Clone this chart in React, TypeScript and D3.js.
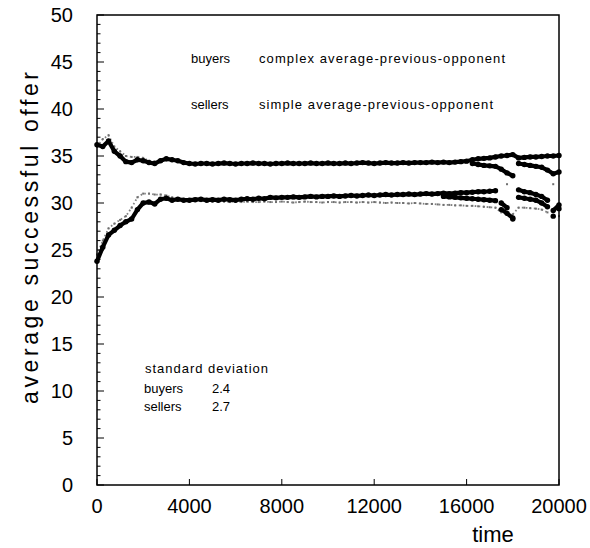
import React from "react";
import * as d3 from "d3";

// time grids
const timeMain = d3.range(0, 20001, 250);
const timeUpperGray = d3.range(0, 4001, 250);
const timeUpperBranch = d3.range(16250, 20001, 250);
const timeLowerBranch = d3.range(15000, 20001, 250);

// upper band, black dots
const upperBlack = [
  36.2, 36.0, 36.6, 35.5, 35.0, 34.4, 34.3, 34.6, 34.5, 34.3,
  34.2, 34.5, 34.7, 34.6, 34.5, 34.3, 34.2, 34.15, 34.2, 34.2,
  34.15, 34.2, 34.25, 34.2, 34.15, 34.2, 34.2, 34.25, 34.2, 34.2,
  34.15, 34.2, 34.2, 34.25, 34.2, 34.2, 34.2, 34.25, 34.2, 34.2,
  34.25, 34.2, 34.2, 34.25, 34.2, 34.25, 34.3, 34.25, 34.2, 34.25,
  34.3, 34.25, 34.25, 34.3, 34.25, 34.3, 34.3, 34.3, 34.35, 34.3,
  34.35, 34.3, 34.35, 34.4, 34.45, 34.6, 34.7, 34.75, 34.8, 34.9,
  35.0, 35.05, 35.15, 34.8, 34.85, 34.9, 34.9, 34.95, 35.0, 35.0,
  35.05,
];
// upper band, gray dots (early part, visible above the black)
const upperGray = [
  36.0, 36.8, 37.2, 36.0, 35.5, 35.0, 34.9, 34.9, 34.8, 34.5,
  34.4, 34.6, 34.8, 34.7, 34.5, 34.35, 34.3,
];
// upper band, late second branch (black)
const upperBranch = [
  34.2, 34.1, 34.0, 33.95, 33.9, 33.6, 33.2, 32.9, 34.2, 34.1,
  34.0, 33.9, 33.8, 33.5, 33.1, 33.3,
];
// lower band, black dots
const lowerBlack = [
  23.8, 25.3, 26.6, 27.1, 27.6, 28.0, 28.3, 29.3, 30.0, 30.1,
  29.9, 30.4, 30.5, 30.3, 30.4, 30.3, 30.3, 30.35, 30.4, 30.3,
  30.35, 30.3, 30.4, 30.35, 30.3, 30.4, 30.45, 30.4, 30.5, 30.45,
  30.6, 30.55, 30.6, 30.6, 30.65, 30.6, 30.65, 30.7, 30.65, 30.7,
  30.7, 30.75, 30.7, 30.75, 30.8, 30.75, 30.8, 30.85, 30.8, 30.85,
  30.9, 30.85, 30.9, 30.9, 30.95, 30.9, 30.95, 31.0, 30.95, 31.0,
  31.05, 31.0, 31.05, 31.1, 31.1, 31.15, 31.2, 31.2, 31.25, 31.3,
  30.0, 29.5, 28.3, 31.4, 31.2, 31.1, 30.9, 30.7, 30.3, 29.2,
  29.8,
];
// lower band, gray dots
const lowerGray = [
  24.5, 26.0, 27.3, 27.8, 28.2, 28.6, 29.5, 30.6, 31.0, 31.0,
  30.9, 30.9, 30.8, 30.6, 30.5, 30.4, 30.3, 30.25, 30.2, 30.2,
  30.15, 30.2, 30.15, 30.1, 30.2, 30.1, 30.15, 30.1, 30.1, 30.15,
  30.1, 30.1, 30.15, 30.1, 30.05, 30.1, 30.15, 30.1, 30.1, 30.05,
  30.1, 30.1, 30.05, 30.1, 30.1, 30.05, 30.1, 30.05, 30.1, 30.05,
  30.0, 30.05, 30.0, 30.0, 29.95, 30.0, 29.95, 29.9, 29.9, 29.85,
  29.8, 29.8, 29.75, 29.75, 29.7, 29.7, 29.65, 29.6, 29.55, 29.5,
  29.0, 32.0, 28.8, 29.5, 29.5, 29.45, 29.4, 29.3, 29.0, 32.0,
  28.6,
];
// lower band, late second branch (black)
const lowerBranch = [
  30.7, 30.65, 30.6, 30.55, 30.5, 30.45, 30.4, 30.35, 30.3, 30.25,
  29.3, 28.9, 28.4, 30.6, 30.5, 30.4, 30.3, 30.0, 29.6, 28.6,
  29.4,
];

const xTicks = [0, 4000, 8000, 12000, 16000, 20000];
const yTicks = [0, 5, 10, 15, 20, 25, 30, 35, 40, 45, 50];
const yMinorTicks = d3.range(0, 51, 1);

const legendLines = [
  { who: "buyers", strategy: "complex average-previous-opponent" },
  { who: "sellers", strategy: "simple average-previous-opponent" },
];
const sdTitle = "standard deviation";
const sdLines = [
  { who: "buyers", value: "2.4" },
  { who: "sellers", value: "2.7" },
];

const FONT = "'Liberation Sans', Arial, sans-serif";

type Pt = [number, number];

// split a series into runs where consecutive values stay close (for drawing bands);
// the early transient is allowed larger steps than the late scattered part
function runs(t: number[], v: number[], maxJumpEarly: number, maxJumpLate: number): Pt[][] {
  const out: Pt[][] = [];
  let cur: Pt[] = [];
  v.forEach((val, i) => {
    const lim = t[i] < 10000 ? maxJumpEarly : maxJumpLate;
    if (cur.length && Math.abs(val - cur[cur.length - 1][1]) > lim) {
      out.push(cur);
      cur = [];
    }
    cur.push([t[i], val]);
  });
  if (cur.length) out.push(cur);
  return out;
}

export default function App() {
  const left = 97, right = 559, top = 15, bottom = 485;
  const x = d3.scaleLinear().domain([0, 20000]).range([left, right]);
  const y = d3.scaleLinear().domain([0, 50]).range([bottom, top]);
  const line = d3.line<Pt>().x((d) => x(d[0])).y((d) => y(d[1]));

  const blackSeries = [
    { t: timeMain, v: upperBlack },
    { t: timeUpperBranch, v: upperBranch },
    { t: timeMain, v: lowerBlack },
    { t: timeLowerBranch, v: lowerBranch },
  ];
  const graySeries = [
    { t: timeUpperGray, v: upperGray },
    { t: timeMain, v: lowerGray },
  ];

  return (
    <svg width={590} height={548} style={{ position: "absolute", left: 0, top: 0, background: "#fff" }}>
      <rect x={0} y={0} width={590} height={548} fill="#fff" />
      {/* gray series: dotted */}
      {graySeries.map((s, si) =>
        runs(s.t, s.v, 2, 1.2).map((seg, k) =>
          seg.length > 1 ? (
            <path key={`gp${si}-${k}`} d={line(seg) || ""} fill="none" stroke="#808080" strokeWidth={1.8} strokeDasharray="1.6 2.4" />
          ) : null
        )
      )}
      {graySeries.map((s, si) =>
        s.v.map((v, i) => (
          <rect key={`g${si}-${i}`} x={x(s.t[i]) - 1} y={y(v) - 1} width={2} height={2} fill="#707070" />
        ))
      )}
      {/* black series: thick band + dots */}
      {blackSeries.map((s, si) =>
        runs(s.t, s.v, 2, 0.7).map((seg, k) =>
          seg.length > 1 ? (
            <path key={`bp${si}-${k}`} d={line(seg) || ""} fill="none" stroke="#000" strokeWidth={4.2} strokeLinejoin="round" strokeLinecap="round" />
          ) : null
        )
      )}
      {blackSeries.map((s, si) =>
        s.v.map((v, i) => (
          <circle key={`b${si}-${i}`} cx={x(s.t[i])} cy={y(v)} r={2.7} fill="#000" />
        ))
      )}
      {/* frame */}
      <rect x={left} y={top} width={right - left} height={bottom - top} fill="none" stroke="#000" strokeWidth={1.5} />
      {/* y ticks */}
      {yMinorTicks.map((v) => (
        <line key={`ym${v}`} x1={left} x2={left + (v % 5 === 0 ? 7 : 3.5)} y1={y(v)} y2={y(v)} stroke="#000" strokeWidth={1} />
      ))}
      {yTicks.map((v) => (
        <text key={`yl${v}`} x={73} y={y(v) + 7} textAnchor="end" fontFamily={FONT} fontSize={20} fill="#000">
          {v}
        </text>
      ))}
      {/* x ticks */}
      {xTicks.map((v) => (
        <line key={`xt${v}`} x1={x(v)} x2={x(v)} y1={bottom} y2={bottom - 6} stroke="#000" strokeWidth={1} />
      ))}
      {xTicks.map((v) => (
        <text key={`xl${v}`} x={x(v)} y={513} textAnchor="middle" fontFamily={FONT} fontSize={20} fill="#000">
          {v}
        </text>
      ))}
      {/* axis titles */}
      <text x={493} y={542} textAnchor="middle" fontFamily={FONT} fontSize={22} fill="#000">
        time
      </text>
      <text
        transform="translate(38,238) rotate(-90)"
        textAnchor="middle"
        fontFamily={FONT}
        fontSize={23}
        textLength={332}
        lengthAdjust="spacing"
        fill="#000"
      >
        average successful offer
      </text>
      {/* legend */}
      {legendLines.map((l, i) => (
        <g key={`lg${i}`}>
          <text x={191} y={63 + i * 46} fontFamily={FONT} fontSize={13} fill="#000">
            {l.who}
          </text>
          <text x={259} y={63 + i * 46} fontFamily={FONT} fontSize={13} fill="#000" textLength={i === 0 ? 246 : 234} lengthAdjust="spacing">
            {l.strategy}
          </text>
        </g>
      ))}
      {/* std dev */}
      <text x={145} y={373} fontFamily={FONT} fontSize={13} fill="#000" textLength={123} lengthAdjust="spacing">
        {sdTitle}
      </text>
      {sdLines.map((l, i) => (
        <g key={`sd${i}`}>
          <text x={144} y={393 + i * 18} fontFamily={FONT} fontSize={13} fill="#000">
            {l.who}
          </text>
          <text x={212} y={393 + i * 18} fontFamily={FONT} fontSize={13} fill="#000">
            {l.value}
          </text>
        </g>
      ))}
    </svg>
  );
}
